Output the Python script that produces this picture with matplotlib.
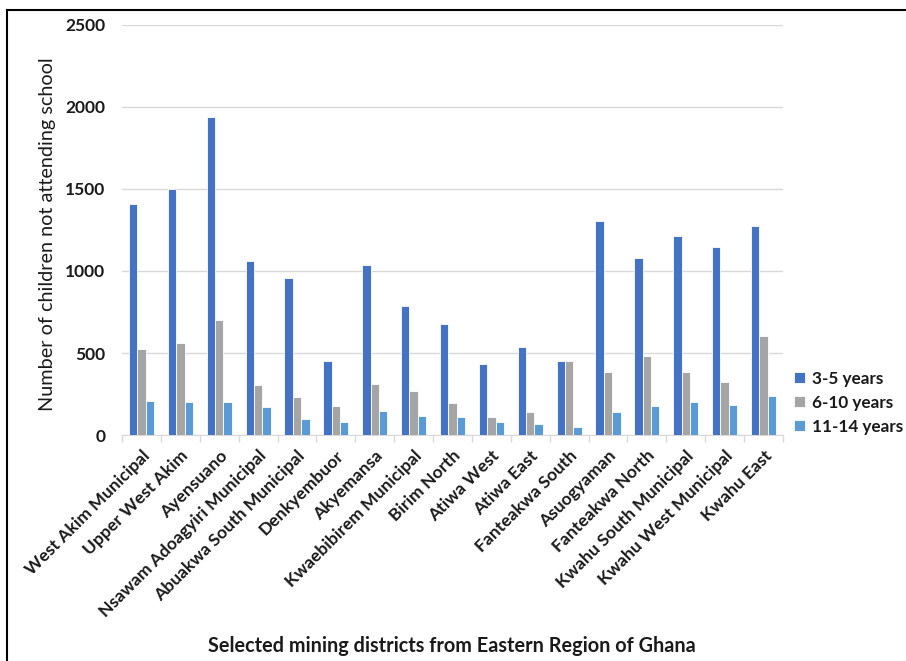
import matplotlib
matplotlib.use("Agg")
import matplotlib.pyplot as plt
from matplotlib.lines import Line2D
import numpy as np

# districts and counts
districts = ["West Akim Municipal", "Upper West Akim", "Ayensuano",
             "Nsawam Adoagyiri Municipal", "Abuakwa South Municipal",
             "Denkyembuor", "Akyemansa", "Kwaebibirem Municipal",
             "Birim North", "Atiwa West", "Atiwa East", "Fanteakwa South",
             "Asuogyaman", "Fanteakwa North", "Kwahu South Municipal",
             "Kwahu West Municipal", "Kwahu East"]
age_3_5 = [1410, 1500, 1936, 1060, 956, 453, 1037, 789, 677, 435,
           535, 453, 1303, 1080, 1216, 1147, 1273]
age_6_10 = [523, 559, 701, 305, 230, 175, 311, 268, 193, 108,
            138, 453, 386, 484, 386, 323, 602]
age_11_14 = [206, 199, 199, 169, 100, 81, 144, 114, 108, 81,
             69, 51, 138, 175, 199, 181, 236]
series_names = ["3-5 years", "6-10 years", "11-14 years"]
colors = ["#4472C4", "#A5A5A5", "#5B9BD5"]

plt.rcParams['font.family'] = ['Lato', 'DejaVu Sans']
plt.rcParams['font.weight'] = 'bold'

fig = plt.figure(figsize=(9.06, 6.61), dpi=100)
ax = fig.add_axes([0.1347, 0.3419, 0.7295, 0.6203])

x = np.arange(len(districts))
w = 0.215
for i, (vals, name, col) in enumerate(zip([age_3_5, age_6_10, age_11_14], series_names, colors)):
    ax.bar(x + (i - 1) * w, vals, width=w, color=col, edgecolor='white',
           linewidth=0.6, label=name, zorder=3)

ax.set_xlim(-0.5, len(districts) - 0.5)
ax.set_ylim(0, 2500)
ax.set_yticks(range(0, 2501, 500))
ax.yaxis.grid(True, color='#D9D9D9', linewidth=1, zorder=0)
ax.tick_params(axis='y', length=0, pad=12, labelsize=12.5, labelcolor='#1a1a1a')

ax.set_xticks(x)
ax.set_xticklabels(districts, rotation=45, ha='right', rotation_mode='anchor',
                   fontsize=12.6, color='#1a1a1a')
ax.tick_params(axis='x', which='major', length=0, pad=9)
ax.set_xticks(np.arange(-0.5, len(districts), 1), minor=True)
ax.tick_params(axis='x', which='minor', length=5, color='#D9D9D9', width=1)

for s in ['top', 'right', 'left']:
    ax.spines[s].set_visible(False)
ax.spines['bottom'].set_color('#D9D9D9')

ax.set_ylabel("Number of children not attending school", fontsize=14.3,
              color='#1a1a1a')
ax.yaxis.set_label_coords(-0.1, 0.49)
fig.text(0.499, 0.022, "Selected mining districts from Eastern Region of Ghana",
         ha='center', va='center', fontsize=14.3, color='#1a1a1a')

leg = fig.legend(loc='center left', bbox_to_anchor=(0.869, 0.391), frameon=False,
                 fontsize=12.3, handlelength=0.65, handleheight=0.65,
                 handletextpad=0.4, labelspacing=0.47, borderaxespad=0)
for t in leg.get_texts():
    t.set_color('#1a1a1a')

# outer frame (top and left edges only)
fig.add_artist(Line2D([0.0077, 1.0], [0.985, 0.985], color='black', linewidth=1.5,
                      transform=fig.transFigure))
fig.add_artist(Line2D([0.0077, 0.0077], [0.0, 0.985], color='black', linewidth=1.5,
                      transform=fig.transFigure))

fig.savefig("out.png", dpi=100)
